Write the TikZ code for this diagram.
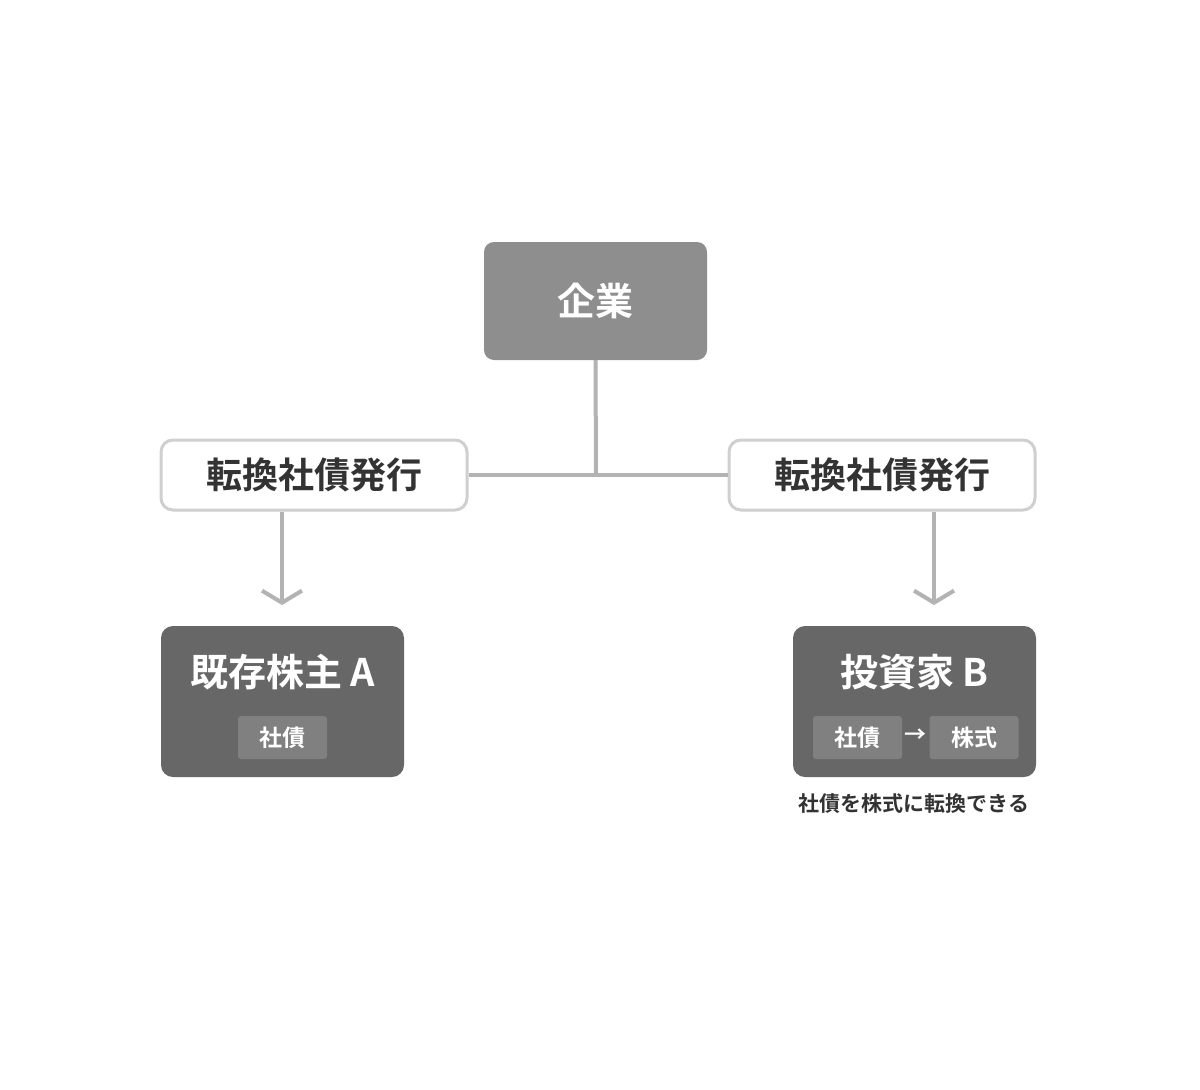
\documentclass[tikz,border=0pt]{standalone}
\usepackage{fontspec}
\setmainfont{Noto Sans CJK JP}[BoldFont={* Bold}]
\usetikzlibrary{arrows.meta}
\definecolor{topc}{HTML}{8E8E8E}
\definecolor{darkc}{HTML}{676767}
\definecolor{chipc}{HTML}{808080}
\definecolor{linec}{HTML}{B3B3B3}
\definecolor{bordc}{HTML}{CFCFCF}
\definecolor{txtc}{HTML}{333333}
\tikzset{
 topbox/.style={fill=topc,rounded corners=10pt,minimum width=223pt,minimum height=118pt,text=white,font=\bfseries\fontsize{38}{40}\selectfont},
 labbox/.style={draw=bordc,line width=3pt,fill=white,rounded corners=12pt,minimum width=306pt,minimum height=70pt,text=txtc,font=\bfseries\fontsize{36}{40}\selectfont},
 darkbox/.style={fill=darkc,rounded corners=12pt,minimum width=243pt,minimum height=151pt},
 chip/.style={fill=chipc,rounded corners=3pt,minimum width=89pt,minimum height=43pt,text=white,font=\bfseries\fontsize{23}{26}\selectfont},
 ttl/.style={text=white,font=\bfseries\fontsize{38}{42}\selectfont},
 conn/.style={draw=linec,line width=4pt},
 arr/.style={conn,-{Straight Barb[length=12pt,width=40pt,line width=4pt]}}
}
\begin{document}
\begin{tikzpicture}[x=1pt,y=-1pt]
\useasboundingbox[fill=white] (0,0) rectangle (1200,1090);
\node[topbox] (top) at (595.5,301) {企業};
\node[labbox] (l) at (314,475) {転換社債発行};
\node[labbox] (r) at (882,475) {転換社債発行};
\coordinate (j) at (596,475);
\draw[conn] (top.south) -- (j);
\draw[conn] (l.east) -- (r.west);
\node[darkbox] (a) at (282.5,701.5) {};
\node[darkbox] (b) at (914.5,701.5) {};
\node[ttl] (at) at (282.5,672) {既存株主 A};
\node[ttl] (bt) at (914.5,672) {投資家 B};
\node[chip] (ac) at (282.5,737.5) {社債};
\node[chip] (bc1) at (857.5,737.5) {社債};
\node[chip] (bc2) at (974,737.5) {株式};
\node[text=white,font=\bfseries\fontsize{22}{24}\selectfont] (ar) at (915.5,736) {→};
\coordinate (la) at (282,605);
\coordinate (ra) at (934,605);
\draw[arr] (282,512) -- (la);
\draw[arr] (934,512) -- (ra);
\node[text=txtc,font=\bfseries\fontsize{21}{24}\selectfont] (cap) at (914,804) {社債を株式に転換できる};
\end{tikzpicture}
\end{document}
